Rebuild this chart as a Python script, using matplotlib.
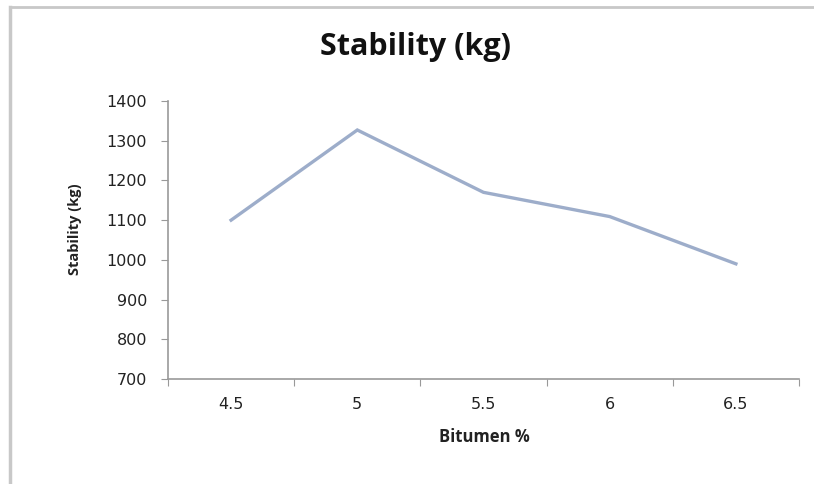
import matplotlib
matplotlib.use("Agg")
import matplotlib.pyplot as plt
from matplotlib.lines import Line2D
import numpy as np

categories = ["4.5", "5", "5.5", "6", "6.5"]
stability = [1100, 1327, 1170, 1109, 990]
y_ticks = [700, 800, 900, 1000, 1100, 1200, 1300, 1400]

fig = plt.figure(figsize=(8.14, 4.84), dpi=100)
ax = fig.add_axes([168/814, 1 - 379/484, (799 - 168)/814, (379 - 101)/484])

x = np.arange(len(categories))
ax.plot(x, stability, color="#9dadca", lw=2.4, solid_joinstyle="miter")

ax.set_xlim(-0.5, len(categories) - 0.5)
ax.set_ylim(700, 1400)
ax.set_yticks(y_ticks)
ax.set_yticklabels([str(v) for v in y_ticks])

# Excel-style: tick marks at category boundaries, labels at centres
ax.set_xticks(np.arange(-0.5, len(categories), 1.0))
ax.set_xticklabels([])
ax.set_xticks(x, minor=True)
ax.set_xticklabels(categories, minor=True)
ax.tick_params(axis="x", which="minor", length=0, pad=13)
ax.tick_params(axis="x", which="major", length=5, color="#999999", direction="out")
ax.tick_params(axis="y", length=5, color="#999999", direction="out", pad=10)

for lbl in ax.get_xticklabels(minor=True) + ax.get_yticklabels():
    lbl.set_fontsize(11.5)
    lbl.set_family("DejaVu Sans")
    lbl.set_color("#222222")

for s in ["top", "right"]:
    ax.spines[s].set_visible(False)
for s in ["left", "bottom"]:
    ax.spines[s].set_color("#9a9a9a")
    ax.spines[s].set_linewidth(1.2)

fig.text(415/814, 1 - 47/484, "Stability (kg)", ha="center", va="center",
         fontsize=22, fontweight="bold", family="Open Sans", color="#111111")
fig.text(484/814, 1 - 437/484, "Bitumen %", ha="center", va="center",
         fontsize=12, fontweight="bold", family="Open Sans", color="#222222")
fig.text(75/814, 1 - 229/484, "Stability (kg)", ha="center", va="center",
         rotation=90, fontsize=10.5, fontweight="bold", family="Open Sans", color="#222222")

# outer frame
fig.add_artist(Line2D([10/814, 10/814], [0, 1 - 7/484], transform=fig.transFigure,
                      color="#c8c8c8", lw=2.5))
fig.add_artist(Line2D([10/814, 1], [1 - 7/484, 1 - 7/484], transform=fig.transFigure,
                      color="#c8c8c8", lw=2))

fig.savefig("out.png", dpi=100)
